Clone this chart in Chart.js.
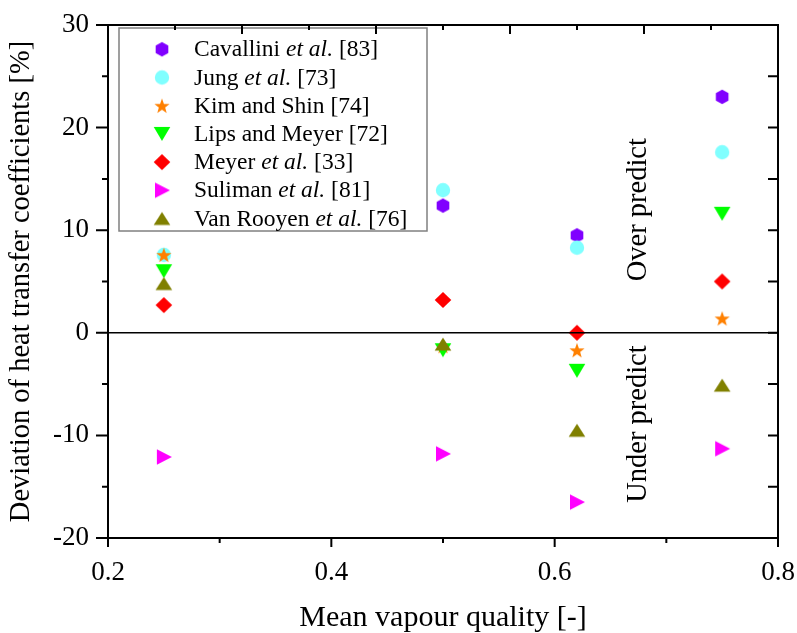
<!DOCTYPE html>
<html>
<head>
<meta charset="utf-8">
<script src="https://cdn.jsdelivr.net/npm/chart.js@4.4.0/dist/chart.umd.min.js"></script>
<style>
  html, body { margin: 0; padding: 0; background: #fff; }
  #wrap { width: 797px; height: 633px; position: relative; }
</style>
</head>
<body>
<div id="wrap"><canvas id="chart"></canvas></div>
<script>
// mean vapour quality of each test point
const qualities = [0.25, 0.5, 0.62, 0.75];

// deviation of heat transfer coefficients [%], one value per quality
const cavallini = [null, 12.4, 9.5, 23.0];
const jung = [7.6, 13.9, 8.3, 17.6];
const kimShin = [7.6, -1.3, -1.7, 1.4];
const lipsMeyer = [6.0, -1.7, -3.7, 11.6];
const meyer = [2.7, 3.2, 0.0, 5.0];
const suliman = [-12.1, -11.8, -16.5, -11.3];
const vanRooyen = [4.8, -1.1, -9.5, -5.1];

const seriesLabels = [
  'Cavallini et al. [83]',
  'Jung et al. [73]',
  'Kim and Shin [74]',
  'Lips and Meyer [72]',
  'Meyer et al. [33]',
  'Suliman et al. [81]',
  'Van Rooyen et al. [76]'
];

const xTickValues = [0.2, 0.4, 0.6, 0.8];
const xMinorTicks = [0.3, 0.5, 0.7];
const yTickValues = [-20, -10, 0, 10, 20, 30];
const yMinorTicks = [-15, -5, 5, 15, 25];

const serif = "'Liberation Serif', 'Times New Roman', serif";

function marker(shape, color) {
  const c = document.createElement('canvas');
  c.width = 20;
  c.height = 20;
  const g = c.getContext('2d');
  g.fillStyle = color;
  g.translate(10, 10);
  g.beginPath();
  if (shape === 'hex') {
    for (let i = 0; i < 6; i++) {
      const a = Math.PI / 6 + i * Math.PI / 3;
      g.lineTo(7.3 * Math.cos(a), 7.3 * Math.sin(a));
    }
  } else if (shape === 'circle') {
    g.arc(0, 0, 7.2, 0, Math.PI * 2);
  } else if (shape === 'star') {
    for (let i = 0; i < 10; i++) {
      const r = i % 2 ? 3.3 : 8;
      const a = -Math.PI / 2 + i * Math.PI / 5;
      g.lineTo(r * Math.cos(a), r * Math.sin(a) + 0.8);
    }
  } else if (shape === 'down') {
    g.moveTo(-8.3, -7); g.lineTo(8.3, -7); g.lineTo(0, 7);
  } else if (shape === 'up') {
    g.moveTo(-8.3, 6.4); g.lineTo(8.3, 6.4); g.lineTo(0, -6.4);
  } else if (shape === 'diamond') {
    g.moveTo(0, -8); g.lineTo(8.3, 0); g.lineTo(0, 8); g.lineTo(-8.3, 0);
  } else if (shape === 'right') {
    g.moveTo(-7, -7.8); g.lineTo(8, 0); g.lineTo(-7, 7.8);
  }
  g.closePath();
  g.fill();
  return c;
}

const markers = [
  marker('hex', '#8000ff'),
  marker('circle', '#80ffff'),
  marker('star', '#ff8000'),
  marker('down', '#00ff00'),
  marker('diamond', '#ff0000'),
  marker('right', '#ff00ff'),
  marker('up', '#808000')
];

const allSeries = [cavallini, jung, kimShin, lipsMeyer, meyer, suliman, vanRooyen];

const datasets = allSeries.map((vals, i) => ({
  label: seriesLabels[i],
  data: qualities.map((q, j) => ({ x: q, y: vals[j] })).filter(p => p.y !== null),
  pointStyle: markers[i],
  pointRadius: 8,
  showLine: false,
  order: -i
}));

const frameTicks = {
  id: 'frameTicks',
  afterDraw(chart) {
    const { ctx, chartArea: a, scales: { x, y } } = chart;
    ctx.save();
    ctx.strokeStyle = '#000';
    ctx.lineWidth = 2;
    ctx.strokeRect(a.left, a.top, a.right - a.left, a.bottom - a.top);

    // zero line
    ctx.lineWidth = 1.6;
    ctx.beginPath();
    ctx.moveTo(a.left, y.getPixelForValue(0));
    ctx.lineTo(a.right, y.getPixelForValue(0));
    ctx.stroke();

    ctx.lineWidth = 2;
    ctx.beginPath();
    // bottom axis, outward
    xTickValues.forEach(v => { const px = x.getPixelForValue(v); ctx.moveTo(px, a.bottom); ctx.lineTo(px, a.bottom + 9); });
    xMinorTicks.forEach(v => { const px = x.getPixelForValue(v); ctx.moveTo(px, a.bottom); ctx.lineTo(px, a.bottom + 5); });
    // left axis, outward
    yTickValues.forEach(v => { const py = y.getPixelForValue(v); ctx.moveTo(a.left, py); ctx.lineTo(a.left - 12, py); });
    yMinorTicks.forEach(v => { const py = y.getPixelForValue(v); ctx.moveTo(a.left, py); ctx.lineTo(a.left - 6, py); });
    // right axis, inward
    yTickValues.concat(yMinorTicks).forEach(v => { const py = y.getPixelForValue(v); ctx.moveTo(a.right, py); ctx.lineTo(a.right - 10, py); });
    // top axis, inward, 10 intervals
    for (let i = 1; i < 10; i++) {
      const px = x.getPixelForValue(0.2 + i * 0.06);
      ctx.moveTo(px, a.top);
      ctx.lineTo(px, a.top + (i % 2 ? 5 : 9));
    }
    ctx.stroke();

    // over / under predict notes
    ctx.fillStyle = '#000';
    ctx.font = '28.5px ' + serif;
    ctx.textAlign = 'center';
    ctx.textBaseline = 'middle';
    [['Over predict', 12], ['Under predict', -8.9]].forEach(([t, v]) => {
      ctx.save();
      ctx.translate(x.getPixelForValue(0.675), y.getPixelForValue(v));
      ctx.rotate(-Math.PI / 2);
      ctx.fillText(t, 0, 0);
      ctx.restore();
    });
    ctx.restore();
  }
};

const boxLegend = {
  id: 'boxLegend',
  afterDatasetsDraw(chart) {
    const { ctx } = chart;
    ctx.save();
    ctx.fillStyle = '#fff';
    ctx.fillRect(119, 28, 308, 203);
    ctx.strokeStyle = '#808080';
    ctx.lineWidth = 1.5;
    ctx.strokeRect(119, 28, 308, 203);
    ctx.textBaseline = 'middle';
    seriesLabels.forEach((label, i) => {
      const cy = 49.3 + i * 28.2;
      ctx.drawImage(markers[i], 162 - 10, cy - 10);
      let tx = 194;
      const parts = label.split(/(et al\.)/);
      parts.forEach(p => {
        if (!p) return;
        ctx.font = (p === 'et al.' ? 'italic ' : '') + '23.5px ' + serif;
        ctx.fillStyle = '#000';
        ctx.fillText(p, tx, cy + 1);
        tx += ctx.measureText(p).width;
      });
    });
    ctx.restore();
  }
};

new Chart(document.getElementById('chart'), {
  type: 'scatter',
  data: { datasets },
  options: {
    responsive: true,
    maintainAspectRatio: false,
    animation: false,
    layout: { padding: { top: 25, right: 19, left: 0, bottom: 0 } },
    plugins: {
      legend: { display: false },
      tooltip: { enabled: false }
    },
    scales: {
      x: {
        type: 'linear',
        min: 0.2,
        max: 0.8,
        afterBuildTicks: s => { s.ticks = xTickValues.map(v => ({ value: v })); },
        afterFit: s => { s.height = 95; s.paddingLeft = 0; s.paddingRight = 0; },
        ticks: { font: { family: serif, size: 27 }, color: '#000', padding: 10, callback: v => v.toFixed(1) },
        grid: { drawOnChartArea: false, tickLength: 9, tickColor: 'rgba(0,0,0,0)' },
        border: { display: false },
        title: { display: true, text: 'Mean vapour quality [-]', font: { family: serif, size: 30, lineHeight: 1 }, color: '#000', padding: 0 }
      },
      y: {
        min: -20,
        max: 30,
        afterBuildTicks: s => { s.ticks = yTickValues.map(v => ({ value: v })); },
        afterFit: s => { s.width = 108; s.paddingTop = 0; s.paddingBottom = 0; },
        ticks: { font: { family: serif, size: 27 }, color: '#000', padding: 7 },
        grid: { drawOnChartArea: false, tickLength: 12, tickColor: 'rgba(0,0,0,0)' },
        border: { display: false },
        title: { display: true, text: 'Deviation of heat transfer coefficients [%]', font: { family: serif, size: 28.5, lineHeight: 1 }, color: '#000', padding: { top: 7, bottom: 0 } }
      }
    }
  },
  plugins: [frameTicks, boxLegend]
});
</script>
</body>
</html>
